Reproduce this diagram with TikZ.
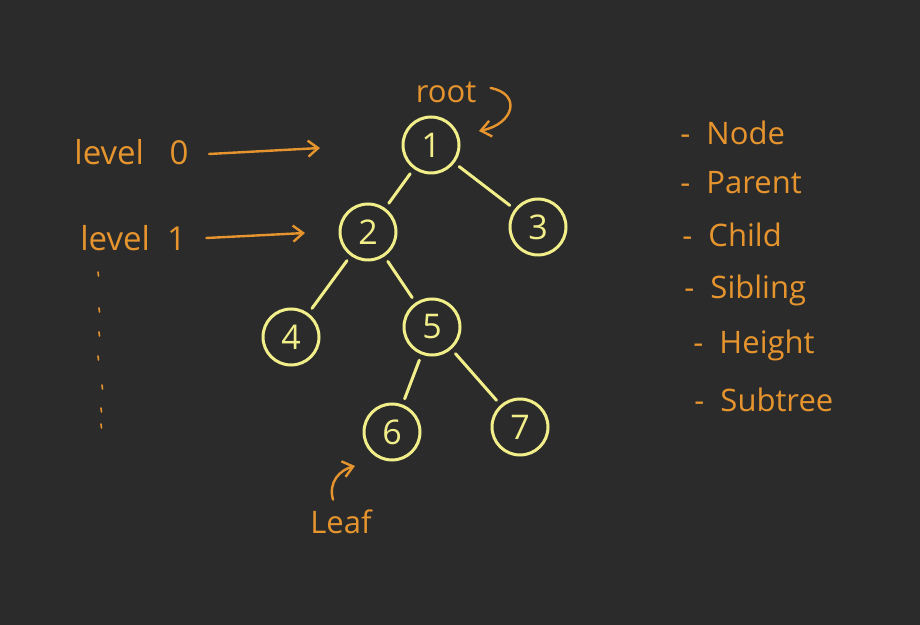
\documentclass[tikz,border=0pt]{standalone}
\usepackage{fontspec}
\setmainfont{Open Sans}
\usetikzlibrary{positioning,arrows.meta,backgrounds}

\definecolor{board}{HTML}{2B2B2B}
\definecolor{chalk}{HTML}{F2EF8A}
\definecolor{marker}{HTML}{E6952E}

\begin{document}
\begin{tikzpicture}[x=0.5pt,y=-0.5pt,
    vertex/.style={circle,draw=chalk,line width=1.5pt,minimum size=28pt,inner sep=0,
        text=chalk,font=\fontsize{17}{18}\selectfont},
    branch/.style={chalk,line width=1.5pt,line cap=round,shorten >=3pt,shorten <=3pt},
    note/.style={text=marker,font=\fontsize{15.5}{17}\selectfont,inner sep=0},
    pointer/.style={marker,line width=1.2pt,line cap=round,-{Straight Barb[length=5pt,width=8pt]}},
    show background rectangle,background rectangle/.style={fill=board,draw=none},
    inner frame sep=0
]
\useasboundingbox (0,0) rectangle (920,625);

% the tree
\node[vertex] (n1) at (431,145) {1};
\node[vertex] (n2) at (368,232) {2};
\node[vertex] (n3) at (538,227) {3};
\node[vertex] (n4) at (291,337) {4};
\node[vertex] (n5) at (432,327) {5};
\node[vertex] (n6) at (392,432) {6};
\node[vertex] (n7) at (520,427) {7};

\draw[branch] (n1) -- (n2);
\draw[branch] (n1) -- (n3);
\draw[branch] (n2) -- (n4);
\draw[branch] (n2) -- (n5);
\draw[branch] (n5) -- (n6);
\draw[branch] (n5) -- (n7);

% root and leaf
\node[note] (root) at (446,92) {root};
\draw[pointer] (root.east) ++(14,-4) .. controls (522,94) and (514,124) .. (479,131);

\node[note] (leaf) at (341,522) {Leaf};
\draw[pointer] (leaf.north) ++(-8,-10) .. controls (328,482) and (340,470) .. (355,466);

% levels
\node[note,anchor=west,font=\fontsize{16.5}{18}\selectfont] (lvl0) at (74,152) {level\ \ \ 0};
\node[note,anchor=west,font=\fontsize{16.5}{18}\selectfont] (lvl1) at (80,238) {level\ \ 1};
\coordinate (lvl0end) at (320,148);
\coordinate (lvl1end) at (305,233);
\draw[pointer] (lvl0.east) ++(20,2) -- (lvl0end);
\draw[pointer] (lvl1.east) ++(20,0) -- (lvl1end);

\foreach \y/\dx in {272/0,308/1,332/1,356/0,385/4,408/3,424/3}{
  \draw[marker,line width=0.8pt,line cap=round] (98+\dx,\y) -- ++(0.5,4);
}

% terms
\foreach \t/\x/\y in {Node/680/133,Parent/680/183,Child/682/235,Sibling/684/290,
    Height/693/345,Subtree/694/400}{
  \node[note,anchor=west] (term-\t) at (\x,\y) {-\ \ \t};
}

\end{tikzpicture}
\end{document}
